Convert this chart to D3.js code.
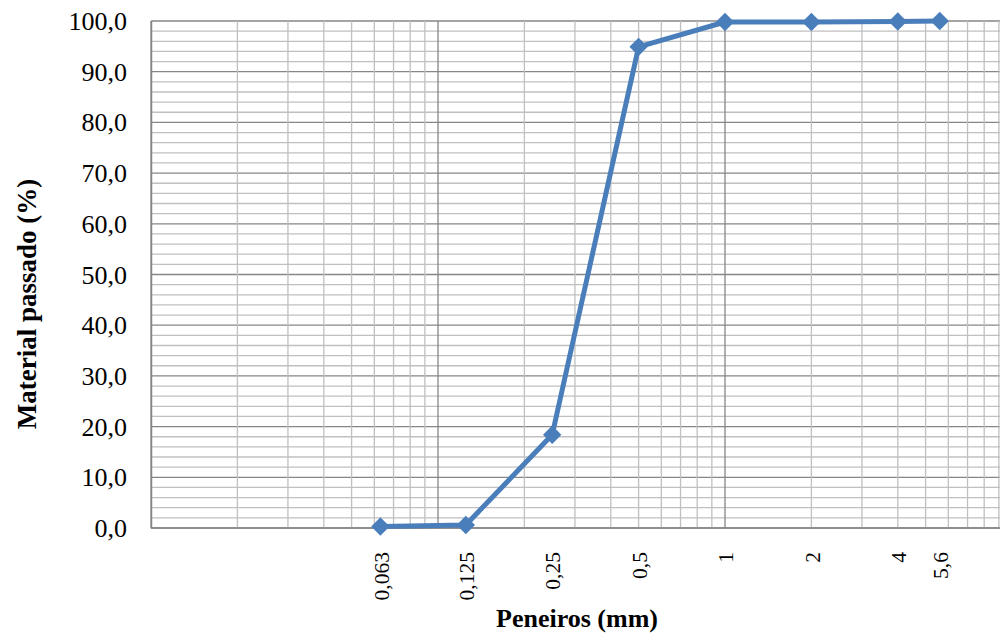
<!DOCTYPE html>
<html>
<head>
<meta charset="utf-8">
<script src="https://cdn.jsdelivr.net/npm/d3@7"></script>
<style>
  body { margin: 0; background: #fff; }
  svg text { font-family: "Liberation Serif", "Times New Roman", serif; fill: #000; }
</style>
</head>
<body>
<script>
// sieve sizes (mm) and % passing
var sieves = [0.063, 0.125, 0.25, 0.5, 1, 2, 4, 5.6];
var sieveLabels = ["0,063", "0,125", "0,25", "0,5", "1", "2", "4", "5,6"];
var passing = [0.3, 0.6, 18.4, 94.9, 99.8, 99.8, 99.9, 100.0];
var yTicks = [0, 10, 20, 30, 40, 50, 60, 70, 80, 90, 100];

var W = 1000, H = 635;
// plot box (note: "top" is taken by window.top, so use p* names)
var pLeft = 151, pRight = 1012, pTop = 21, pBottom = 528;

var svg = d3.select("body").append("svg")
  .attr("width", W).attr("height", H);

var x = d3.scaleLog().domain([0.01, 10]).range([pLeft, pRight]);
var y = d3.scaleLinear().domain([0, 100]).range([pBottom, pTop]);

var fmt = function(v) { return d3.format(".1f")(v).replace(".", ","); };

// grid: horizontal lines every 2, darker every 10
var hLines = d3.range(0, 101, 2);
svg.append("g").selectAll("line").data(hLines).join("line")
  .attr("x1", pLeft).attr("x2", pRight)
  .attr("y1", d => y(d)).attr("y2", d => y(d))
  .attr("stroke", d => d % 10 == 0 ? "#868686" : "#c0c0c0")
  .attr("stroke-width", 1.3);

// grid: vertical log lines
var vLines = [];
[0.01, 0.1, 1].forEach(function(dec) {
  for (var k = 1; k < 10; k++) vLines.push({v: k * dec, major: k == 1});
});
svg.append("g").selectAll("line").data(vLines).join("line")
  .attr("x1", d => x(d.v)).attr("x2", d => x(d.v))
  .attr("y1", pTop).attr("y2", pBottom)
  .attr("stroke", d => d.major ? "#868686" : "#c0c0c0")
  .attr("stroke-width", 1.3);

// y axis
var yAxis = svg.append("g")
  .attr("transform", "translate(" + pLeft + ",0)")
  .call(d3.axisLeft(y).tickValues(yTicks).tickFormat(fmt).tickSize(0).tickPadding(24));
yAxis.select(".domain").attr("stroke", "#868686").attr("stroke-width", 1.5);
yAxis.selectAll("text")
  .attr("font-size", 26)
  .attr("font-family", "Liberation Serif")
  .attr("dy", "0.33em");

// x baseline
svg.append("line")
  .attr("x1", pLeft).attr("x2", pRight)
  .attr("y1", pBottom).attr("y2", pBottom)
  .attr("stroke", "#868686").attr("stroke-width", 1.5);

// x tick labels, rotated
svg.append("g").selectAll("text").data(sieves).join("text")
  .attr("transform", d => "translate(" + (x(d) + 1) + ",552) rotate(-90)")
  .attr("text-anchor", "end")
  .attr("dy", "0.33em")
  .attr("font-size", 21.5)
  .text((d, i) => sieveLabels[i]);

// curve
var pts = sieves.map((s, i) => [s, passing[i]]);
svg.append("path")
  .datum(pts)
  .attr("fill", "none")
  .attr("stroke", "#4a7ebb")
  .attr("stroke-width", 5)
  .attr("stroke-linejoin", "round")
  .attr("d", d3.line().x(d => x(d[0])).y(d => y(d[1])));

svg.append("g").selectAll("path").data(pts).join("path")
  .attr("transform", d => "translate(" + x(d[0]) + "," + y(d[1]) + ") rotate(45)")
  .attr("d", d3.symbol(d3.symbolSquare, 169))
  .attr("fill", "#4a7ebb");

// axis titles
svg.append("text")
  .attr("transform", "translate(36,304) rotate(-90)")
  .attr("text-anchor", "middle")
  .attr("font-size", 27)
  .attr("font-weight", "bold")
  .text("Material passado (%)");

svg.append("text")
  .attr("x", 577).attr("y", 627)
  .attr("text-anchor", "middle")
  .attr("font-size", 26)
  .attr("font-weight", "bold")
  .text("Peneiros (mm)");
</script>
</body>
</html>
